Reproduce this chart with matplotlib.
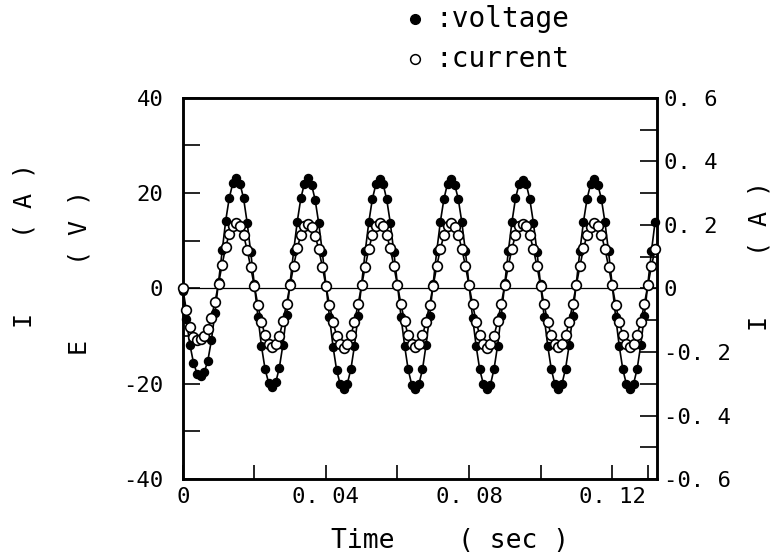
import matplotlib
matplotlib.use("Agg")
import matplotlib.pyplot as plt
import numpy as np
from matplotlib.lines import Line2D
from matplotlib.ticker import FixedLocator, FixedFormatter

# sampling interval of the recorder (s)
dt = 0.001

# voltage E (V), one sample per ms
voltage = [
    -0.5, -6.5, -11.8, -15.6, -17.9, -18.4, -17.6, -15.2, -10.9, -5.1,
    1.4, 8.1, 14.2, 19.0, 22.1, 23.2, 22.0, 18.9, 13.8, 7.6,
    0.9, -5.9, -12.1, -16.9, -19.8, -20.6, -19.7, -16.6, -11.8, -5.6,
    1.1, 7.9, 14.0, 18.9, 22.0, 23.1, 21.8, 18.6, 13.7, 7.7,
    0.8, -6.0, -12.2, -17.1, -20.1, -21.0, -20.0, -16.9, -12.0, -5.8,
    1.0, 7.8, 13.9, 18.8, 21.9, 22.9, 21.9, 18.7, 13.8, 7.6,
    0.9, -5.9, -12.0, -17.0, -20.2, -21.1, -20.1, -17.0, -11.9, -5.7,
    1.0, 7.9, 14.0, 18.8, 22.0, 23.0, 21.8, 18.8, 13.9, 7.8,
    0.8, -6.1, -12.1, -17.0, -20.0, -21.0, -20.2, -16.9, -12.0, -5.8,
    1.1, 7.8, 13.9, 18.9, 21.9, 22.8, 21.9, 18.7, 13.8, 7.7,
    0.9, -5.9, -12.0, -16.9, -20.1, -21.1, -20.0, -16.8, -11.9, -5.7,
    1.0, 7.9, 14.0, 18.8, 21.9, 23.0, 21.8, 18.8, 13.9, 7.8,
    0.9, -6.0, -12.1, -17.0, -20.1, -21.0, -20.0, -16.9, -11.9, -5.8,
    1.0, 7.8, 13.9,
]

# current I (A)
current = [
    0.000, -0.068, -0.120, -0.152, -0.163, -0.160, -0.150, -0.128, -0.092, -0.043,
    0.015, 0.075, 0.130, 0.172, 0.198, 0.207, 0.196, 0.167, 0.122, 0.066,
    0.008, -0.052, -0.106, -0.147, -0.174, -0.183, -0.176, -0.149, -0.104, -0.049,
    0.011, 0.071, 0.126, 0.169, 0.196, 0.204, 0.194, 0.166, 0.124, 0.069,
    0.009, -0.051, -0.105, -0.149, -0.176, -0.186, -0.175, -0.147, -0.106, -0.050,
    0.010, 0.069, 0.124, 0.168, 0.195, 0.206, 0.195, 0.168, 0.126, 0.070,
    0.010, -0.050, -0.104, -0.148, -0.175, -0.185, -0.176, -0.148, -0.105, -0.051,
    0.009, 0.070, 0.125, 0.167, 0.196, 0.205, 0.194, 0.169, 0.125, 0.071,
    0.010, -0.049, -0.105, -0.147, -0.174, -0.186, -0.175, -0.149, -0.104, -0.050,
    0.010, 0.071, 0.125, 0.168, 0.195, 0.204, 0.196, 0.167, 0.124, 0.070,
    0.009, -0.050, -0.106, -0.148, -0.175, -0.185, -0.174, -0.148, -0.105, -0.049,
    0.011, 0.070, 0.126, 0.168, 0.194, 0.205, 0.195, 0.168, 0.125, 0.069,
    0.010, -0.051, -0.105, -0.148, -0.176, -0.185, -0.175, -0.147, -0.105, -0.050,
    0.010, 0.070, 0.124,
]

x_ticks = [0, 0.04, 0.08, 0.12]
x_ticklabels = ["0", "0. 04", "0. 08", "0. 12"]
x_minor = [0.02, 0.06, 0.10, 0.13]
e_ticks = [-40, -20, 0, 20, 40]
e_ticklabels = ["-40", "-20", "0", "20", "40"]
i_ticks = [-0.6, -0.4, -0.2, 0, 0.2, 0.4, 0.6]
i_ticklabels = ["-0. 6", "-0. 4", "-0. 2", "0", "0. 2", "0. 4", "0. 6"]

plt.rcParams['font.family'] = ['DejaVu Sans Mono']

t = np.arange(len(voltage)) * dt

fig = plt.figure(figsize=(7.81, 5.59), dpi=100)
ax = fig.add_axes([0.234, 0.143, 0.607, 0.682])
ax2 = ax.twinx()

ax.axhline(0, color='black', lw=0.9, zorder=1)
ax.plot(t, voltage, color='black', lw=1.2, marker='o', ms=5.8,
        mfc='black', mec='black', clip_on=False, zorder=3)
ax2.plot(t, current, color='black', lw=1.2, marker='o', ms=7.0,
         mfc='white', mec='black', mew=1.2, clip_on=False, zorder=3)

ax.set_xlim(0, 0.1325)
ax.set_ylim(-40, 40)
ax2.set_ylim(-0.6, 0.6)

ax.xaxis.set_major_locator(FixedLocator(x_ticks))
ax.xaxis.set_major_formatter(FixedFormatter(x_ticklabels))
ax.xaxis.set_minor_locator(FixedLocator(x_minor))
ax.yaxis.set_major_locator(FixedLocator(e_ticks))
ax.yaxis.set_major_formatter(FixedFormatter(e_ticklabels))
ax.yaxis.set_minor_locator(FixedLocator([-30, -10, 10, 30]))
ax2.yaxis.set_major_locator(FixedLocator(i_ticks))
ax2.yaxis.set_major_formatter(FixedFormatter(i_ticklabels))
ax2.yaxis.set_minor_locator(FixedLocator([-0.5, -0.3, -0.1, 0.1, 0.3, 0.5]))

ax.tick_params(axis='x', which='both', direction='in', length=10, width=1.2,
               top=False, labelsize=16, pad=6)
ax.tick_params(axis='y', which='both', direction='in', length=12, width=1.2,
               right=False, labelsize=16, pad=14)
ax2.tick_params(axis='y', which='both', direction='in', length=12, width=1.2,
                left=False, labelsize=16, pad=5)

for a in (ax, ax2):
    for s in a.spines.values():
        s.set_linewidth(1.8)

# legend drawn as a free-standing key above the frame
fig.add_artist(Line2D([0.531], [0.966], transform=fig.transFigure, marker='o',
                      ms=7, mfc='black', mec='black', ls='none'))
fig.add_artist(Line2D([0.531], [0.895], transform=fig.transFigure, marker='o',
                      ms=7, mfc='white', mec='black', mew=1.1, ls='none'))
fig.text(0.557, 0.966, ":voltage", fontsize=20, va='center', ha='left')
fig.text(0.557, 0.895, ":current", fontsize=20, va='center', ha='left')

fig.text(0.032, 0.56, "I     ( A )", rotation=90, fontsize=18, ha='center', va='center')
fig.text(0.102, 0.513, "E     ( V )", rotation=90, fontsize=18, ha='center', va='center')
fig.text(0.973, 0.542, "I    ( A )", rotation=90, fontsize=18, ha='center', va='center')
fig.text(0.576, 0.032, "Time    ( sec )", fontsize=19, ha='center', va='center')

fig.savefig("out.png", dpi=100)
